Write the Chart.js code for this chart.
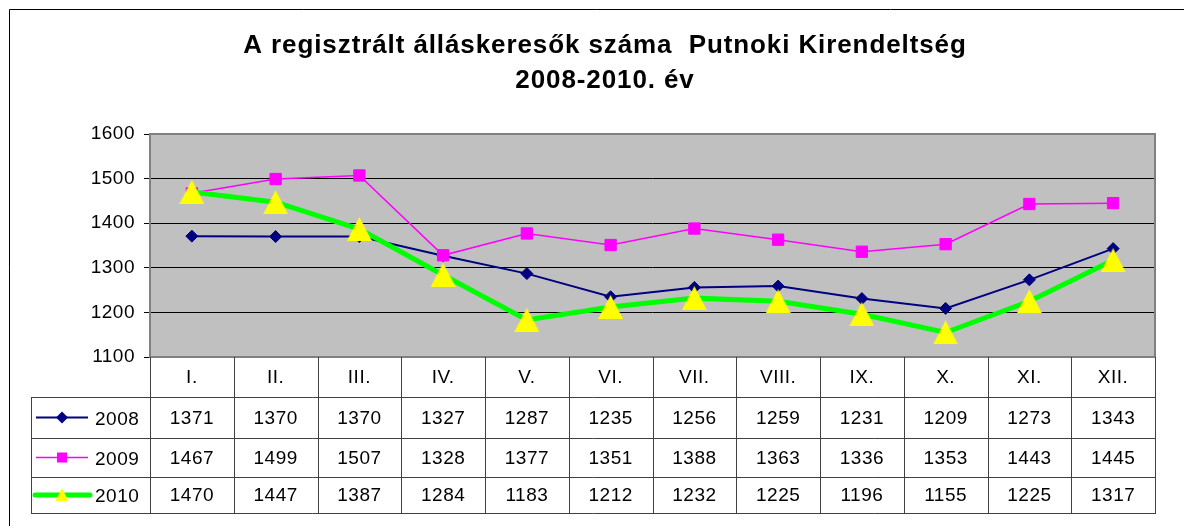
<!DOCTYPE html>
<html>
<head>
<meta charset="utf-8">
<script src="https://cdn.jsdelivr.net/npm/chart.js@4.4.0/dist/chart.umd.min.js"></script>
<style>
  html, body { margin: 0; padding: 0; background: #fff; }
  #wrap { width: 1184px; height: 526px; position: relative; }
</style>
</head>
<body>
<div id="wrap"><canvas id="chart"></canvas></div>
<script>
const titleLines = ["A regisztrált álláskeresők száma  Putnoki Kirendeltség", "2008-2010. év"];
const months = ["I.", "II.", "III.", "IV.", "V.", "VI.", "VII.", "VIII.", "IX.", "X.", "XI.", "XII."];
const seriesNames = ["2008", "2009", "2010"];
const values2008 = [1371, 1370, 1370, 1327, 1287, 1235, 1256, 1259, 1231, 1209, 1273, 1343];
const values2009 = [1467, 1499, 1507, 1328, 1377, 1351, 1388, 1363, 1336, 1353, 1443, 1445];
const values2010 = [1470, 1447, 1387, 1284, 1183, 1212, 1232, 1225, 1196, 1155, 1225, 1317];
const yMin = 1100, yMax = 1600, yStep = 100;

const FONT = "'Liberation Sans', Arial, sans-serif";
const NAVY = "#000080", MAGENTA = "#FF00FF", LIME = "#00FF00", YELLOW = "#FFFF00";

// header row + three data rows under the plot
const rowHeights = [40, 41, 39, 36];
const tableLeft = 31;

function triangleImage(w, h) {
  const c = document.createElement("canvas");
  c.width = w;
  c.height = h;
  const g = c.getContext("2d");
  g.fillStyle = YELLOW;
  g.beginPath();
  g.moveTo(w / 2, 0);
  g.lineTo(w, h);
  g.lineTo(0, h);
  g.closePath();
  g.fill();
  return c;
}

function drawKey(ctx, row, y) {
  const x0 = 36, x1 = 88, xm = 62;
  ctx.save();
  ctx.beginPath();
  if (row === 0) {
    ctx.strokeStyle = NAVY; ctx.lineWidth = 2;
    ctx.moveTo(x0, y); ctx.lineTo(x1, y); ctx.stroke();
    ctx.fillStyle = NAVY;
    ctx.beginPath();
    ctx.moveTo(xm - 6, y); ctx.lineTo(xm, y - 6); ctx.lineTo(xm + 6, y); ctx.lineTo(xm, y + 6);
    ctx.closePath(); ctx.fill();
  } else if (row === 1) {
    ctx.strokeStyle = MAGENTA; ctx.lineWidth = 1.5;
    ctx.moveTo(x0, y); ctx.lineTo(x1, y); ctx.stroke();
    ctx.fillStyle = MAGENTA;
    ctx.fillRect(xm - 5, y - 5, 10, 10);
  } else {
    ctx.strokeStyle = LIME; ctx.lineWidth = 5; ctx.lineCap = "round";
    ctx.moveTo(x0 - 1, y); ctx.lineTo(x1 + 2, y); ctx.stroke();
    ctx.fillStyle = YELLOW;
    ctx.beginPath();
    ctx.moveTo(xm, y - 7); ctx.lineTo(xm + 6.5, y + 6); ctx.lineTo(xm - 6.5, y + 6);
    ctx.closePath(); ctx.fill();
  }
  ctx.restore();
}

const sheetPlugin = {
  id: "sheet",
  beforeDraw(chart) {
    const { ctx, chartArea: a } = chart;
    ctx.save();
    ctx.strokeStyle = "#000";
    ctx.lineWidth = 1;
    ctx.beginPath();
    ctx.moveTo(9.5, 526);
    ctx.lineTo(9.5, 9.5);
    ctx.lineTo(1184, 9.5);
    ctx.stroke();
    ctx.fillStyle = "#C0C0C0";
    ctx.fillRect(a.left, a.top, a.width, a.height);
    ctx.restore();
    ctx.letterSpacing = "0.5px";
  },
  beforeDatasetsDraw(chart) {
    const { ctx, chartArea: a } = chart;
    ctx.save();
    ctx.strokeStyle = "#808080";
    ctx.lineWidth = 2;
    ctx.strokeRect(a.left, a.top, a.width, a.height);
    ctx.restore();
  },
  afterDraw(chart) {
    const { ctx, chartArea: a } = chart;
    const xs = chart.scales.x;
    const colW = a.width / months.length;
    const series = [values2008, values2009, values2010];

    ctx.save();
    // title
    ctx.fillStyle = "#000";
    ctx.font = "bold 26px " + FONT;
    ctx.letterSpacing = "0.9px";
    ctx.textAlign = "center";
    ctx.textBaseline = "alphabetic";
    ctx.fillText(titleLines[0], 605, 53);
    ctx.fillText(titleLines[1], 605, 88);

    // table grid
    const tops = [a.bottom];
    rowHeights.forEach(h => tops.push(tops[tops.length - 1] + h));
    const bottom = tops[tops.length - 1];
    ctx.strokeStyle = "#404040";
    ctx.lineWidth = 1;
    ctx.beginPath();
    for (let r = 1; r < tops.length; r++) {
      const y = Math.round(tops[r]) + 0.5;
      ctx.moveTo(tableLeft, y);
      ctx.lineTo(a.right + 1, y);
    }
    for (let i = 0; i <= months.length; i++) {
      const x = Math.round(a.left + i * colW) + 0.5;
      ctx.moveTo(x, a.bottom);
      ctx.lineTo(x, bottom + 0.5);
    }
    ctx.moveTo(tableLeft + 0.5, tops[1]);
    ctx.lineTo(tableLeft + 0.5, bottom + 0.5);
    ctx.stroke();

    // table text
    ctx.letterSpacing = "0.5px";
    ctx.font = "19px " + FONT;
    ctx.textBaseline = "middle";
    ctx.textAlign = "center";
    months.forEach((m, i) => {
      ctx.fillText(m, xs.getPixelForValue(i), (tops[0] + tops[1]) / 2 + 1);
    });
    series.forEach((vals, r) => {
      const yc = (tops[r + 1] + tops[r + 2]) / 2 + 1;
      ctx.textAlign = "center";
      vals.forEach((v, i) => ctx.fillText(String(v), xs.getPixelForValue(i), yc));
      drawKey(ctx, r, yc - 1);
      ctx.textAlign = "left";
      ctx.fillText(seriesNames[r], 95, yc + 1);
    });
    ctx.restore();
  }
};

new Chart(document.getElementById("chart"), {
  type: "line",
  data: {
    labels: months,
    datasets: [
      {
        label: seriesNames[0],
        data: values2008,
        borderColor: NAVY,
        backgroundColor: NAVY,
        borderWidth: 2,
        pointStyle: "rectRot",
        pointRadius: 6,
        pointBorderWidth: 1,
        tension: 0,
        order: 2
      },
      {
        label: seriesNames[1],
        data: values2009,
        borderColor: MAGENTA,
        backgroundColor: MAGENTA,
        borderWidth: 1.5,
        pointStyle: "rect",
        pointRadius: 8,
        pointBorderWidth: 1,
        tension: 0,
        order: 1
      },
      {
        label: seriesNames[2],
        data: values2010,
        borderColor: LIME,
        backgroundColor: YELLOW,
        borderWidth: 5,
        pointStyle: triangleImage(25, 24),
        pointRadius: 12,
        tension: 0,
        order: 0
      }
    ]
  },
  options: {
    responsive: true,
    maintainAspectRatio: false,
    animation: false,
    layout: { padding: { top: 134, left: 0, right: 29, bottom: 169 } },
    plugins: {
      legend: { display: false },
      title: { display: false },
      tooltip: { enabled: false }
    },
    scales: {
      x: { display: false, offset: true },
      y: {
        min: yMin,
        max: yMax,
        ticks: {
          stepSize: yStep,
          color: "#000",
          padding: 9,
          font: { family: FONT, size: 19 },
          callback: (v) => String(v)
        },
        grid: { color: "#000", lineWidth: 1, tickLength: 6, drawTicks: true },
        border: { display: false },
        afterFit(scale) { scale.width = 150; }
      }
    }
  },
  plugins: [sheetPlugin]
});
</script>
</body>
</html>
